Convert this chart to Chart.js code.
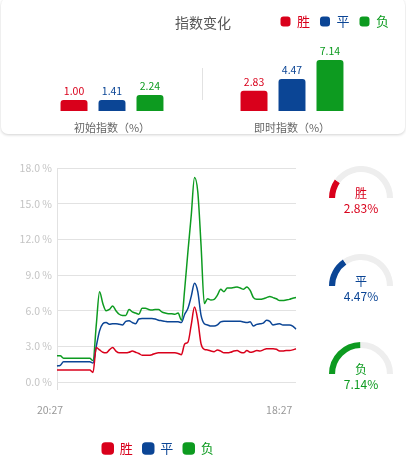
<!DOCTYPE html>
<html>
<head>
<meta charset="utf-8">
<script src="https://cdn.jsdelivr.net/npm/chart.js@4.4.0/dist/chart.umd.min.js"></script>
<style>
  body { margin: 0; background: #fff; font-family: "Noto Sans CJK SC", "Noto Sans", sans-serif; }
  #wrap { position: relative; width: 406px; height: 470px; overflow: hidden; }
  #card { position: absolute; left: 1px; top: -2px; width: 404px; height: 136px; border-radius: 7px;
          background: #fff; box-shadow: 0 1px 3px rgba(0,0,0,0.18); }
  #title { position: absolute; left: 0; top: 12px; width: 406px; text-align: center;
           font-size: 14px; line-height: 20px; color: #555; }
  #barBox { position: absolute; left: 0; top: 0; width: 406px; height: 136px; }
  #lineBox { position: absolute; left: 0; top: 150px; width: 310px; height: 315px; }
  .gauge { position: absolute; left: 329px; width: 64px; height: 32px; }
  .gauge canvas { position: absolute; left: 0; top: 0; }
  .gname, .gval { position: absolute; left: -10px; width: 84px; text-align: center; font-size: 12px; line-height: 16px; }
  .gname { top: 19px; }
  .gval { top: 34px; }
</style>
</head>
<body>
<div id="wrap">
  <div id="card"></div>
  <div id="barBox"><canvas id="barChart"></canvas></div>
  <div id="title">指数变化</div>
  <div id="lineBox"><canvas id="lineChart"></canvas></div>
  <div class="gauge" style="top:166px"><canvas id="g0" width="64" height="32"></canvas><div class="gname">胜</div><div class="gval"></div></div>
  <div class="gauge" style="top:254px"><canvas id="g1" width="64" height="32"></canvas><div class="gname">平</div><div class="gval"></div></div>
  <div class="gauge" style="top:342px"><canvas id="g2" width="64" height="32"></canvas><div class="gname">负</div><div class="gval"></div></div>
</div>
<script>
var seriesNames = ['胜', '平', '负'];
var seriesColors = ['#d9001b', '#0b4595', '#0d9b20'];

// bar chart: 初始 vs 即时
var barCategories = ['初始指数（%）', '即时指数（%）'];
var winBars = [1.00, 2.83];
var drawBars = [1.41, 4.47];
var loseBars = [2.24, 7.14];

// gauges
var gaugeValues = [2.83, 4.47, 7.14];

// line chart
var timeTicks = ['20:27', '18:27'];
var winLine = [1.0, 1.0, 1.0, 1.0, 1.0, 1.0, 1.0, 1.0, 1.0, 1.0, 1.0, 0.8, 2.9, 2.7, 2.5, 2.45, 2.7, 2.9, 2.6, 2.45,
    2.45, 2.45, 2.5, 2.6, 2.5, 2.4, 2.25, 2.25, 2.25, 2.3, 2.4, 2.45, 2.45, 2.45, 2.45, 2.45, 2.45, 2.4, 2.3, 3.2,
    3.35, 4.8, 6.3, 5.2, 3.2, 2.75, 2.7, 2.6, 2.55, 2.7, 2.6, 2.45, 2.45, 2.5, 2.6, 2.65, 2.5, 2.45, 2.65, 2.5,
    2.55, 2.65, 2.6, 2.7, 2.8, 2.8, 2.8, 2.75, 2.6, 2.6, 2.65, 2.65, 2.7, 2.8];
var drawLine = [1.35, 1.4, 1.7, 1.7, 1.7, 1.7, 1.7, 1.7, 1.7, 1.7, 1.7, 1.6, 3.0, 4.3, 4.9, 5.0, 4.85, 4.9, 4.9, 4.85,
    4.8, 5.1, 5.15, 5.0, 4.9, 5.3, 5.35, 5.35, 5.35, 5.35, 5.3, 5.2, 5.15, 5.1, 5.06, 5.06, 5.06, 5.06, 5.0, 5.7,
    6.2, 7.2, 8.3, 7.6, 5.6, 4.9, 4.8, 4.7, 4.7, 4.8, 5.06, 5.1, 5.1, 5.1, 5.1, 5.1, 5.1, 5.05, 5.0, 5.06,
    4.7, 4.85, 4.9, 4.95, 5.2, 5.1, 4.8, 4.85, 4.9, 4.8, 4.8, 4.8, 4.7, 4.45];
var loseLine = [2.2, 2.2, 2.0, 2.0, 2.0, 2.0, 2.0, 2.0, 2.0, 2.0, 2.0, 1.8, 4.8, 7.6, 6.6, 6.0, 6.1, 6.4, 6.0, 5.7,
    5.6, 5.6, 6.1, 5.9, 5.8, 5.7, 6.2, 6.2, 6.1, 6.05, 6.1, 6.1, 5.9, 5.8, 5.75, 5.75, 5.7, 5.8, 5.2, 7.8,
    11.0, 14.0, 17.2, 16.0, 11.5, 6.6, 7.0, 6.9, 6.95, 7.3, 7.8, 7.6, 7.9, 7.9, 7.95, 8.0, 7.9, 7.8, 8.0, 7.7,
    7.1, 6.95, 6.95, 7.0, 7.1, 7.2, 7.1, 7.0, 6.85, 6.85, 6.9, 6.95, 7.05, 7.1];
var xLabels = winLine.map(function (v, i) {
    if (i === 0) return timeTicks[0];
    if (i === 70) return timeTicks[1];
    return '';
});

Chart.defaults.font.family = '"Noto Sans CJK SC", "Noto Sans", sans-serif';
Chart.defaults.animation = false;

function coloredLabels(chart) {
    return Chart.defaults.plugins.legend.labels.generateLabels(chart).map(function (l) {
        l.fontColor = seriesColors[l.datasetIndex];
        return l;
    });
}

// numbers above the bars
var barValueLabels = {
    id: 'barValueLabels',
    afterDatasetsDraw: function (chart) {
        var ctx = chart.ctx;
        ctx.save();
        ctx.font = '10.5px "Noto Sans CJK SC"';
        ctx.textAlign = 'center';
        ctx.textBaseline = 'middle';
        chart.data.datasets.forEach(function (ds, di) {
            chart.getDatasetMeta(di).data.forEach(function (bar, i) {
                ctx.fillStyle = ds.backgroundColor;
                ctx.fillText(ds.data[i].toFixed(2), bar.x, bar.y - 9);
            });
        });
        ctx.restore();
    }
};

// short line between the two groups
var groupDivider = {
    id: 'groupDivider',
    beforeDatasetsDraw: function (chart) {
        var ctx = chart.ctx, a = chart.chartArea;
        var x = Math.round((a.left + a.right) / 2) + 0.5;
        ctx.save();
        ctx.strokeStyle = '#e2e2e2';
        ctx.lineWidth = 1;
        ctx.beginPath();
        ctx.moveTo(x, a.bottom - 43);
        ctx.lineTo(x, a.bottom - 11);
        ctx.stroke();
        ctx.restore();
    }
};

var barSeries = [winBars, drawBars, loseBars];
new Chart(document.getElementById('barChart'), {
    type: 'bar',
    data: {
        labels: barCategories,
        datasets: barSeries.map(function (d, i) {
            return {
                label: seriesNames[i],
                data: d,
                backgroundColor: seriesColors[i],
                borderWidth: 0,
                borderRadius: 3,
                minBarLength: 11,
                barPercentage: 0.71,
                categoryPercentage: 0.633
            };
        })
    },
    options: {
        responsive: true,
        maintainAspectRatio: false,
        layout: { padding: { top: 5, right: 7, left: 0, bottom: 0 } },
        plugins: {
            legend: {
                position: 'top',
                align: 'end',
                labels: {
                    boxWidth: 10, boxHeight: 10, useBorderRadius: true, borderRadius: 3,
                    padding: 10, font: { size: 13 }, generateLabels: coloredLabels
                }
            },
            tooltip: { enabled: false }
        },
        scales: {
            x: {
                grid: { display: false, drawTicks: false },
                border: { display: false },
                ticks: { color: '#666', font: { size: 11 }, padding: 10 },
                afterFit: function (s) { s.height = 25; }
            },
            y: {
                min: 0, max: 10.2,
                ticks: { display: false },
                grid: { display: false, drawTicks: false },
                border: { display: false },
                afterFit: function (s) { s.width = 22; }
            },
            y2: {
                position: 'right',
                ticks: { display: false },
                grid: { display: false, drawTicks: false },
                border: { display: false },
                afterFit: function (s) { s.width = 17; }
            }
        }
    },
    plugins: [barValueLabels, groupDivider]
});

var lineSeries = [winLine, drawLine, loseLine];
new Chart(document.getElementById('lineChart'), {
    type: 'line',
    data: {
        labels: xLabels,
        datasets: lineSeries.map(function (d, i) {
            return {
                label: seriesNames[i],
                data: d,
                borderColor: seriesColors[i],
                backgroundColor: seriesColors[i],
                borderWidth: 1.5,
                pointRadius: 0,
                fill: false,
                cubicInterpolationMode: 'monotone'
            };
        })
    },
    options: {
        responsive: true,
        maintainAspectRatio: false,
        layout: { padding: { top: 18, right: 10, left: 16 } },
        plugins: {
            legend: {
                position: 'bottom',
                labels: {
                    boxWidth: 11, boxHeight: 11, useBorderRadius: true, borderRadius: 3,
                    padding: 10, font: { size: 13 }, generateLabels: coloredLabels
                }
            },
            tooltip: { enabled: false }
        },
        scales: {
            x: {
                grid: {
                    display: true, drawOnChartArea: false, drawTicks: true, tickLength: 8,
                    color: function (c) { return c.index === 0 ? '#dedede' : 'rgba(0,0,0,0)'; }
                },
                border: { display: false },
                ticks: { autoSkip: false, maxRotation: 0, padding: 14, labelOffset: -7, color: '#999', font: { size: 10.5 } },
                afterFit: function (s) { s.height = 50; }
            },
            y: {
                min: 0, max: 18,
                ticks: {
                    stepSize: 3, padding: 5, color: '#c4c4c4', font: { size: 10.5 },
                    callback: function (v) { return v.toFixed(1) + ' %'; }
                },
                grid: { color: '#e2e2e2', drawTicks: false },
                border: { display: true, color: '#e2e2e2' },
                afterFit: function (s) { s.width = 41; }
            }
        }
    }
});

var gaugeTotal = gaugeValues.reduce(function (a, b) { return a + b; }, 0);
var gaugeBoxes = document.querySelectorAll('.gauge');
gaugeValues.forEach(function (v, i) {
    new Chart(document.getElementById('g' + i), {
        type: 'doughnut',
        data: {
            datasets: [{
                data: [v, gaugeTotal - v],
                backgroundColor: [seriesColors[i], '#eeeeee'],
                borderWidth: 0
            }]
        },
        options: {
            responsive: false,
            rotation: -90,
            circumference: 180,
            cutout: '81%',
            events: [],
            plugins: { legend: { display: false }, tooltip: { enabled: false } }
        }
    });
    var box = gaugeBoxes[i];
    box.querySelector('.gname').style.color = seriesColors[i];
    var val = box.querySelector('.gval');
    val.style.color = seriesColors[i];
    val.textContent = v.toFixed(2) + '%';
});
</script>
</body>
</html>
